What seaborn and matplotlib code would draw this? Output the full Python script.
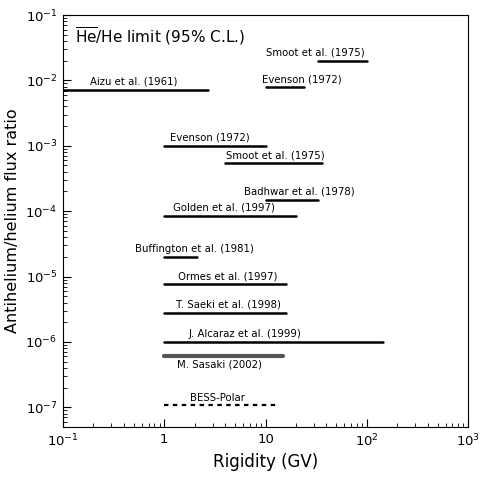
import matplotlib
matplotlib.use("Agg")
import matplotlib.pyplot as plt
import matplotlib.ticker as mticker
from matplotlib import font_manager
import seaborn as sns
import pandas as pd

# ---- data ----
experiments = ["Smoot et al. (1975)", "Evenson (1972)", "Aizu et al. (1961)",
               "Evenson (1972)", "Smoot et al. (1975)", "Badhwar et al. (1978)",
               "Golden et al. (1997)", "Buffington et al. (1981)", "Ormes et al. (1997)",
               "T. Saeki et al. (1998)", "J. Alcaraz et al. (1999)", "M. Sasaki (2002)",
               "BESS-Polar"]
rig_low = [33, 10, 0.1, 1.0, 4.0, 10, 1.0, 1.0, 1.0, 1.0, 1.0, 1.0, 1.0]
rig_high = [100, 24, 2.7, 10, 36, 33, 20, 2.1, 16, 16, 145, 15, 13]
ratio = [2.0e-2, 7.8e-3, 7.2e-3, 1.0e-3, 5.4e-4, 1.5e-4, 8.5e-5, 2.0e-5,
         7.6e-6, 2.8e-6, 1.0e-6, 6.2e-7, 1.07e-7]
label_x = [10.2, 9.3, 0.185, 1.15, 4.1, 6.2, 1.23, 0.52, 1.37, 1.3, 1.73, 1.35, 1.8]
label_below = [False] * 11 + [True, False]

x_ticks = [0.1, 1, 10, 100, 1000]
x_ticklabels = [r"$10^{-1}$", "1", "10", r"$10^{2}$", r"$10^{3}$"]
y_ticks = [1e-7, 1e-6, 1e-5, 1e-4, 1e-3, 1e-2, 1e-1]
y_ticklabels = [r"$10^{-7}$", r"$10^{-6}$", r"$10^{-5}$", r"$10^{-4}$",
                r"$10^{-3}$", r"$10^{-2}$", r"$10^{-1}$"]

sns.set_theme(style="ticks")
names = {f.name for f in font_manager.fontManager.ttflist}
narrow = "Liberation Sans Narrow" if "Liberation Sans Narrow" in names else "DejaVu Sans"
label_fs = 8.5 if narrow != "DejaVu Sans" else 7.3
plt.rcParams["font.family"] = ["DejaVu Sans"]
plt.rcParams["mathtext.fontset"] = "dejavusans"
plt.rcParams["text.color"] = "black"
plt.rcParams["axes.labelcolor"] = "black"
plt.rcParams["xtick.color"] = "black"
plt.rcParams["ytick.color"] = "black"

fig = plt.figure(figsize=(4.84, 4.80), dpi=100)
ax = fig.add_axes([63 / 484, 1 - 427 / 480, (468 - 63) / 484, (427 - 15) / 480])

for i, name in enumerate(experiments):
    seg = pd.DataFrame({"x": [rig_low[i], rig_high[i]], "y": [ratio[i], ratio[i]]})
    if name == "M. Sasaki (2002)":
        kw = dict(color="#555555", linewidth=3.0)
    elif name == "BESS-Polar":
        kw = dict(color="black", linewidth=1.6, linestyle=(0, (2, 2)))
    else:
        kw = dict(color="black", linewidth=1.8)
    sns.lineplot(data=seg, x="x", y="y", ax=ax, **kw)
    below = label_below[i]
    ax.annotate(name, xy=(label_x[i], ratio[i]),
                xytext=(0, -3 if below else 2), textcoords="offset points",
                ha="left", va="top" if below else "bottom",
                fontsize=label_fs, family=narrow, color="black")

ax.set_xscale("log")
ax.set_yscale("log")
ax.set_xlim(0.1, 1000)
ax.set_ylim(5e-8, 1e-1)
ax.xaxis.set_major_locator(mticker.FixedLocator(x_ticks))
ax.xaxis.set_major_formatter(mticker.FixedFormatter(x_ticklabels))
ax.yaxis.set_major_locator(mticker.FixedLocator(y_ticks))
ax.yaxis.set_major_formatter(mticker.FixedFormatter(y_ticklabels))
ax.xaxis.set_minor_locator(mticker.LogLocator(base=10, subs=range(2, 10), numticks=20))
ax.yaxis.set_minor_locator(mticker.LogLocator(base=10, subs=range(2, 10), numticks=20))
ax.xaxis.set_minor_formatter(mticker.NullFormatter())
ax.yaxis.set_minor_formatter(mticker.NullFormatter())
ax.tick_params(which="major", direction="in", length=6, width=0.8, labelsize=9.5,
               top=False, right=False, pad=4)
ax.tick_params(which="minor", direction="in", length=3, width=0.6,
               top=False, right=False)
for s in ax.spines.values():
    s.set_linewidth(0.8)
    s.set_color("black")

ax.set_xlabel("Rigidity (GV)", fontsize=12, labelpad=3)
ax.set_ylabel("Antihelium/helium flux ratio", fontsize=11.5, labelpad=4)

ax.text(0.03, 0.975, r"$\overline{\mathrm{He}}$/He limit (95% C.L.)",
        transform=ax.transAxes, ha="left", va="top", fontsize=11)

fig.savefig("out.png", dpi=100)
